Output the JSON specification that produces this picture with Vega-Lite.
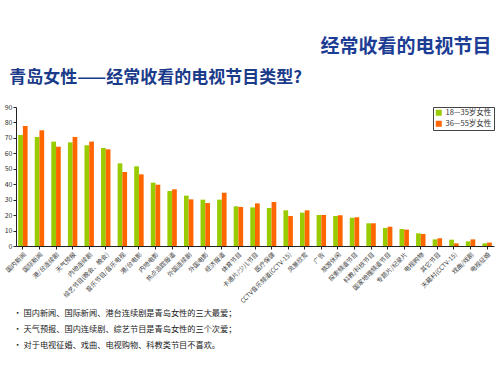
{
  "$schema": "https://vega.github.io/schema/vega-lite/v6.json",
  "background": "white",
  "padding": {"left": 4, "top": 38, "right": 3, "bottom": 5},
  "title": {"text": "经常收看的电视节目", "anchor": "end", "fontSize": 19, "font": "Noto Sans CJK SC", "fontWeight": "bold", "color": "#1c3d94", "offset": 12, "dx": -3},
  "vconcat": [
    {
      "title": {"text": "青岛女性——经常收看的电视节目类型?", "anchor": "start", "fontSize": 17, "font": "Noto Sans CJK SC", "fontWeight": "bold", "color": "#1a3a8a", "offset": 16, "dx": 5},
      "width": 478,
      "height": 139,
      "data": {"values": [
        {"cat": "国内新闻", "g": "18—35岁女性", "v": 71.9}, {"cat": "国内新闻", "g": "36—55岁女性", "v": 77.7},
        {"cat": "国际新闻", "g": "18—35岁女性", "v": 70.6}, {"cat": "国际新闻", "g": "36—55岁女性", "v": 74.9},
        {"cat": "港/台连续剧", "g": "18—35岁女性", "v": 67.6}, {"cat": "港/台连续剧", "g": "36—55岁女性", "v": 64.3},
        {"cat": "天气预报", "g": "18—35岁女性", "v": 67.1}, {"cat": "天气预报", "g": "36—55岁女性", "v": 70.6},
        {"cat": "内地连续剧", "g": "18—35岁女性", "v": 65.2}, {"cat": "内地连续剧", "g": "36—55岁女性", "v": 67.6},
        {"cat": "综艺节目(晚会、晚会)", "g": "18—35岁女性", "v": 63.5}, {"cat": "综艺节目(晚会、晚会)", "g": "36—55岁女性", "v": 62.6},
        {"cat": "音乐节目/音乐电视", "g": "18—35岁女性", "v": 53.5}, {"cat": "音乐节目/音乐电视", "g": "36—55岁女性", "v": 47.9},
        {"cat": "港/台电影", "g": "18—35岁女性", "v": 51.6}, {"cat": "港/台电影", "g": "36—55岁女性", "v": 46.4},
        {"cat": "内地电影", "g": "18—35岁女性", "v": 41.0}, {"cat": "内地电影", "g": "36—55岁女性", "v": 39.7},
        {"cat": "热点追踪报道", "g": "18—35岁女性", "v": 35.6}, {"cat": "热点追踪报道", "g": "36—55岁女性", "v": 36.7},
        {"cat": "外国连续剧", "g": "18—35岁女性", "v": 32.6}, {"cat": "外国连续剧", "g": "36—55岁女性", "v": 30.2},
        {"cat": "外国电影", "g": "18—35岁女性", "v": 30.0}, {"cat": "外国电影", "g": "36—55岁女性", "v": 27.8},
        {"cat": "经济报道", "g": "18—35岁女性", "v": 30.0}, {"cat": "经济报道", "g": "36—55岁女性", "v": 34.5},
        {"cat": "体育节目", "g": "18—35岁女性", "v": 25.7}, {"cat": "体育节目", "g": "36—55岁女性", "v": 25.3},
        {"cat": "卡通片/少儿节目", "g": "18—35岁女性", "v": 25.0}, {"cat": "卡通片/少儿节目", "g": "36—55岁女性", "v": 27.6},
        {"cat": "医疗保健", "g": "18—35岁女性", "v": 24.6}, {"cat": "医疗保健", "g": "36—55岁女性", "v": 28.5},
        {"cat": "CCTV音乐频道(CCTV-15)", "g": "18—35岁女性", "v": 23.1}, {"cat": "CCTV音乐频道(CCTV-15)", "g": "36—55岁女性", "v": 19.4},
        {"cat": "风景欣赏", "g": "18—35岁女性", "v": 21.6}, {"cat": "风景欣赏", "g": "36—55岁女性", "v": 23.1},
        {"cat": "广告", "g": "18—35岁女性", "v": 20.1}, {"cat": "广告", "g": "36—55岁女性", "v": 20.1},
        {"cat": "旅游休闲", "g": "18—35岁女性", "v": 19.4}, {"cat": "旅游休闲", "g": "36—55岁女性", "v": 19.9},
        {"cat": "探索频道节目", "g": "18—35岁女性", "v": 18.3}, {"cat": "探索频道节目", "g": "36—55岁女性", "v": 18.6},
        {"cat": "科教/科技节目", "g": "18—35岁女性", "v": 14.7}, {"cat": "科教/科技节目", "g": "36—55岁女性", "v": 14.7},
        {"cat": "国家地理频道节目", "g": "18—35岁女性", "v": 11.7}, {"cat": "国家地理频道节目", "g": "36—55岁女性", "v": 12.5},
        {"cat": "专题片/纪录片", "g": "18—35岁女性", "v": 11.0}, {"cat": "专题片/纪录片", "g": "36—55岁女性", "v": 10.6},
        {"cat": "电视购物", "g": "18—35岁女性", "v": 8.2}, {"cat": "电视购物", "g": "36—55岁女性", "v": 7.8},
        {"cat": "其它节目", "g": "18—35岁女性", "v": 4.3}, {"cat": "其它节目", "g": "36—55岁女性", "v": 5.0},
        {"cat": "天籁村(CCTV-15)", "g": "18—35岁女性", "v": 4.1}, {"cat": "天籁村(CCTV-15)", "g": "36—55岁女性", "v": 1.7},
        {"cat": "戏曲/戏剧", "g": "18—35岁女性", "v": 3.0}, {"cat": "戏曲/戏剧", "g": "36—55岁女性", "v": 4.3},
        {"cat": "电视征婚", "g": "18—35岁女性", "v": 1.7}, {"cat": "电视征婚", "g": "36—55岁女性", "v": 2.2}
      ]},
      "mark": {"type": "bar"},
      "encoding": {
        "x": {
          "field": "cat", "type": "nominal", "sort": null,
          "scale": {"paddingInner": 0.43, "paddingOuter": 0.13},
          "axis": {
            "labelAngle": -45, "labelFontSize": 6.3, "labelColor": "#444", "labelLimit": 200,
            "domainColor": "#222", "tickColor": "#222", "tickSize": 3,
            "title": ["• 国内新闻、国际新闻、港台连续剧是青岛女性的三大最爱；", "• 天气预报、国内连续剧、综艺节目是青岛女性的三个次爱；", "• 对于电视征婚、戏曲、电视购物、科教类节目不喜欢。"],
            "titleAnchor": "start", "titleAlign": "left", "titleBaseline": "top",
            "titleFontSize": 8.2, "titleFontWeight": "normal", "titleColor": "#222",
            "titleLineHeight": 16, "titleY": 63, "titleX": -3
          }
        },
        "xOffset": {"field": "g", "type": "nominal", "scale": {"paddingInner": 0, "paddingOuter": 0}},
        "y": {
          "field": "v", "type": "quantitative",
          "scale": {"domain": [0, 90]},
          "axis": {"values": [0, 10, 20, 30, 40, 50, 60, 70, 80, 90], "grid": false, "title": null, "labelFontSize": 7, "labelColor": "#333", "domainColor": "#222", "tickColor": "#222", "tickSize": 3, "labelPadding": 1}
        },
        "color": {
          "field": "g", "type": "nominal",
          "scale": {"domain": ["18—35岁女性", "36—55岁女性"], "range": ["#99cc00", "#ff6600"]},
          "legend": {"title": null, "orient": "top-right", "offset": 0, "symbolType": "square", "symbolSize": 36, "labelFontSize": 7.5, "labelColor": "#333", "strokeColor": "#444", "fillColor": "white", "padding": 2, "rowPadding": 2, "symbolStrokeWidth": 0, "labelOffset": 3}
        }
      }
    }
  ],
  "config": {
    "font": "Noto Sans CJK SC",
    "view": {"stroke": null}
  }
}
